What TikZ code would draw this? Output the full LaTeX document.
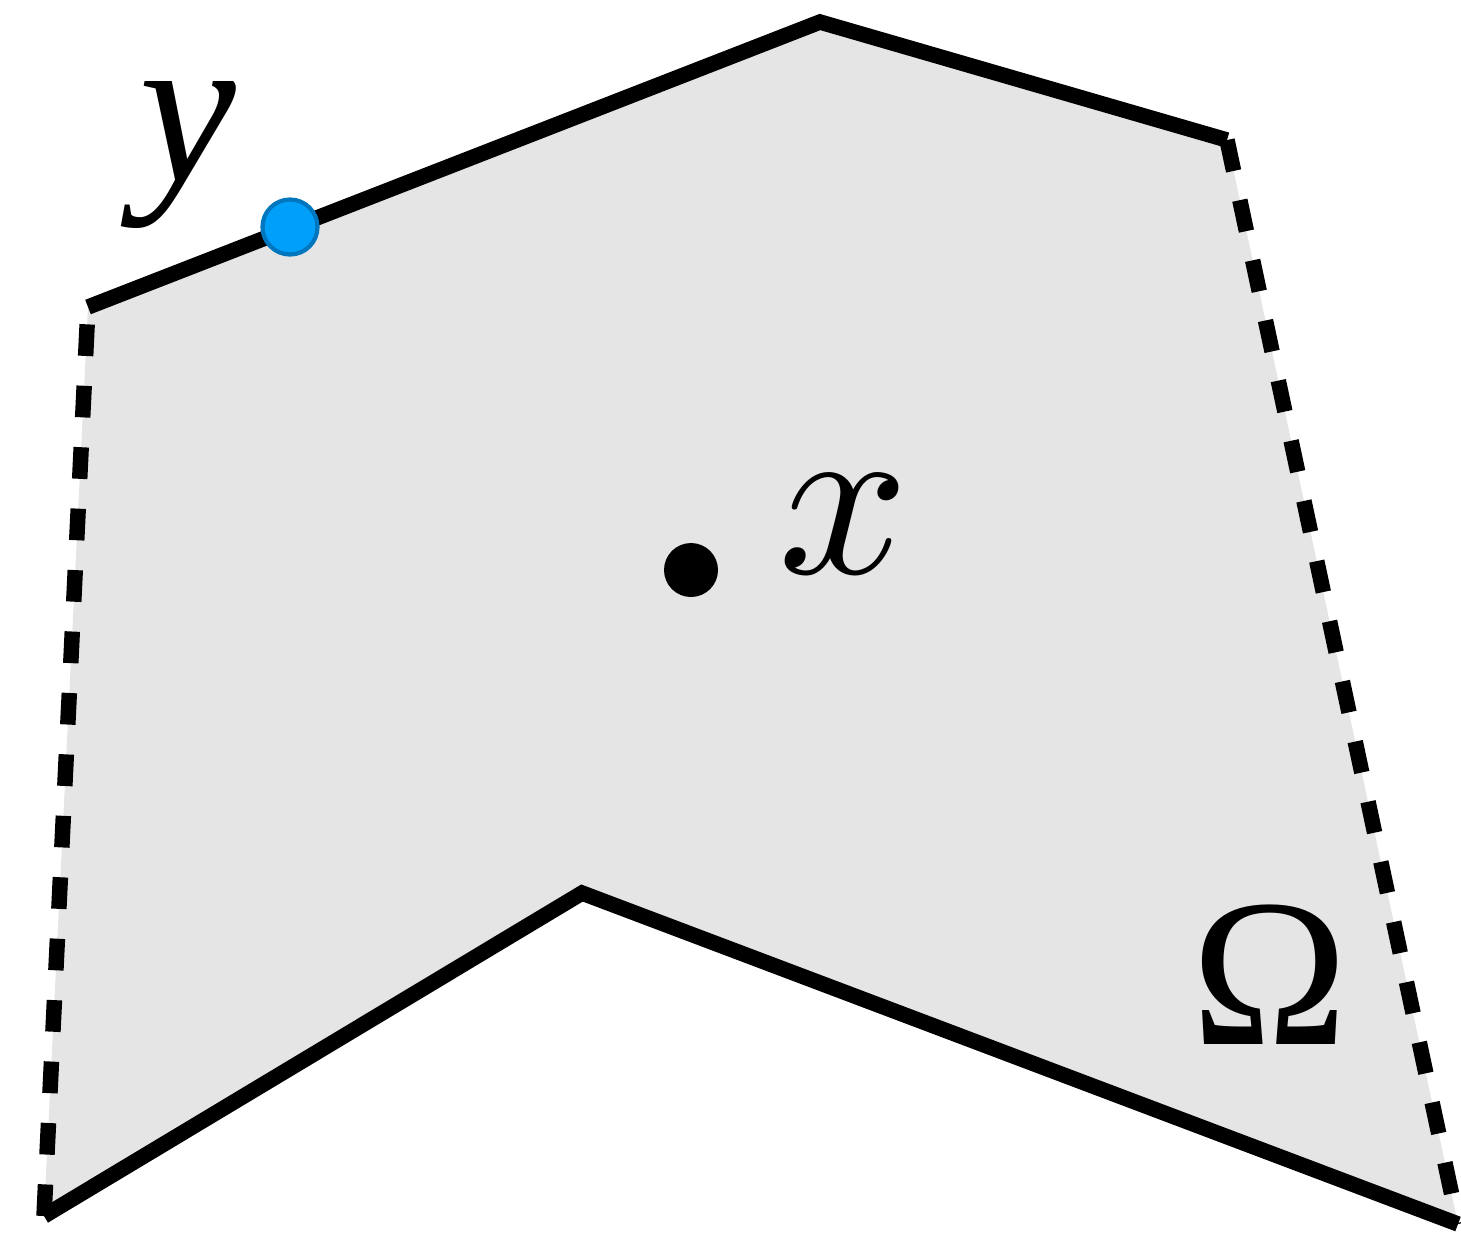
\documentclass[tikz,border=0pt]{standalone}
\usepackage{graphicx}
\usepackage{fontspec}
\setmainfont{Liberation Serif}
\usetikzlibrary{positioning}
\definecolor{regionGray}{RGB}{229,229,229}
\definecolor{pointBlue}{RGB}{0,160,250}
\definecolor{pointRim}{RGB}{0,118,190}
\tikzset{
  edgeSolid/.style={line width=4.4pt,line join=miter},
  edgeDash/.style={line width=4.4pt,dash pattern=on 9pt off 8.5pt},
  symLabel/.style={font=\fontsize{#1}{#1}\selectfont,inner sep=0pt},
  symLabel/.default=60,
}
\begin{document}
\begin{tikzpicture}[
  ptBlue/.style={circle,fill=pointBlue,draw=pointRim,line width=1.2pt,
                 minimum size=0.55cm,inner sep=0pt},
  ptBlack/.style={circle,fill=black,minimum size=0.54cm,inner sep=0pt}
]
  \useasboundingbox (0,0) rectangle (14.61,-12.43);
  % corners of the region
  \coordinate (a) at (0.88,-3.07);
  \coordinate (b) at (8.20,-0.22);
  \coordinate (c) at (12.27,-1.40);
  \coordinate (d) at (14.58,-12.24);
  \coordinate (e) at (5.82,-8.93);
  \coordinate (f) at (0.44,-12.16);
  \fill[regionGray] (a)--(b)--(c)--(d)--(e)--(f)--cycle;
  \draw[edgeSolid] (a)--(b)--(c);
  \draw[edgeSolid] (d)--(e)--(f);
  \foreach \p/\q in {c/d,f/a}{
    \draw[edgeDash] (\p)--(\q);
  }
  \node[ptBlue](yPt) at (2.90,-2.27) {};
  \node[ptBlack](xPt) at (6.91,-5.70) {};
  \node[symLabel=62](yLab) at (1.88,-1.55) {\textit{y}};
  \node[symLabel=10](xLab) at (8.44,-5.24) {\scalebox{6.5}{$x$}};
  \node[symLabel](omLab) at (12.70,-9.75) {Ω};
\end{tikzpicture}
\end{document}
